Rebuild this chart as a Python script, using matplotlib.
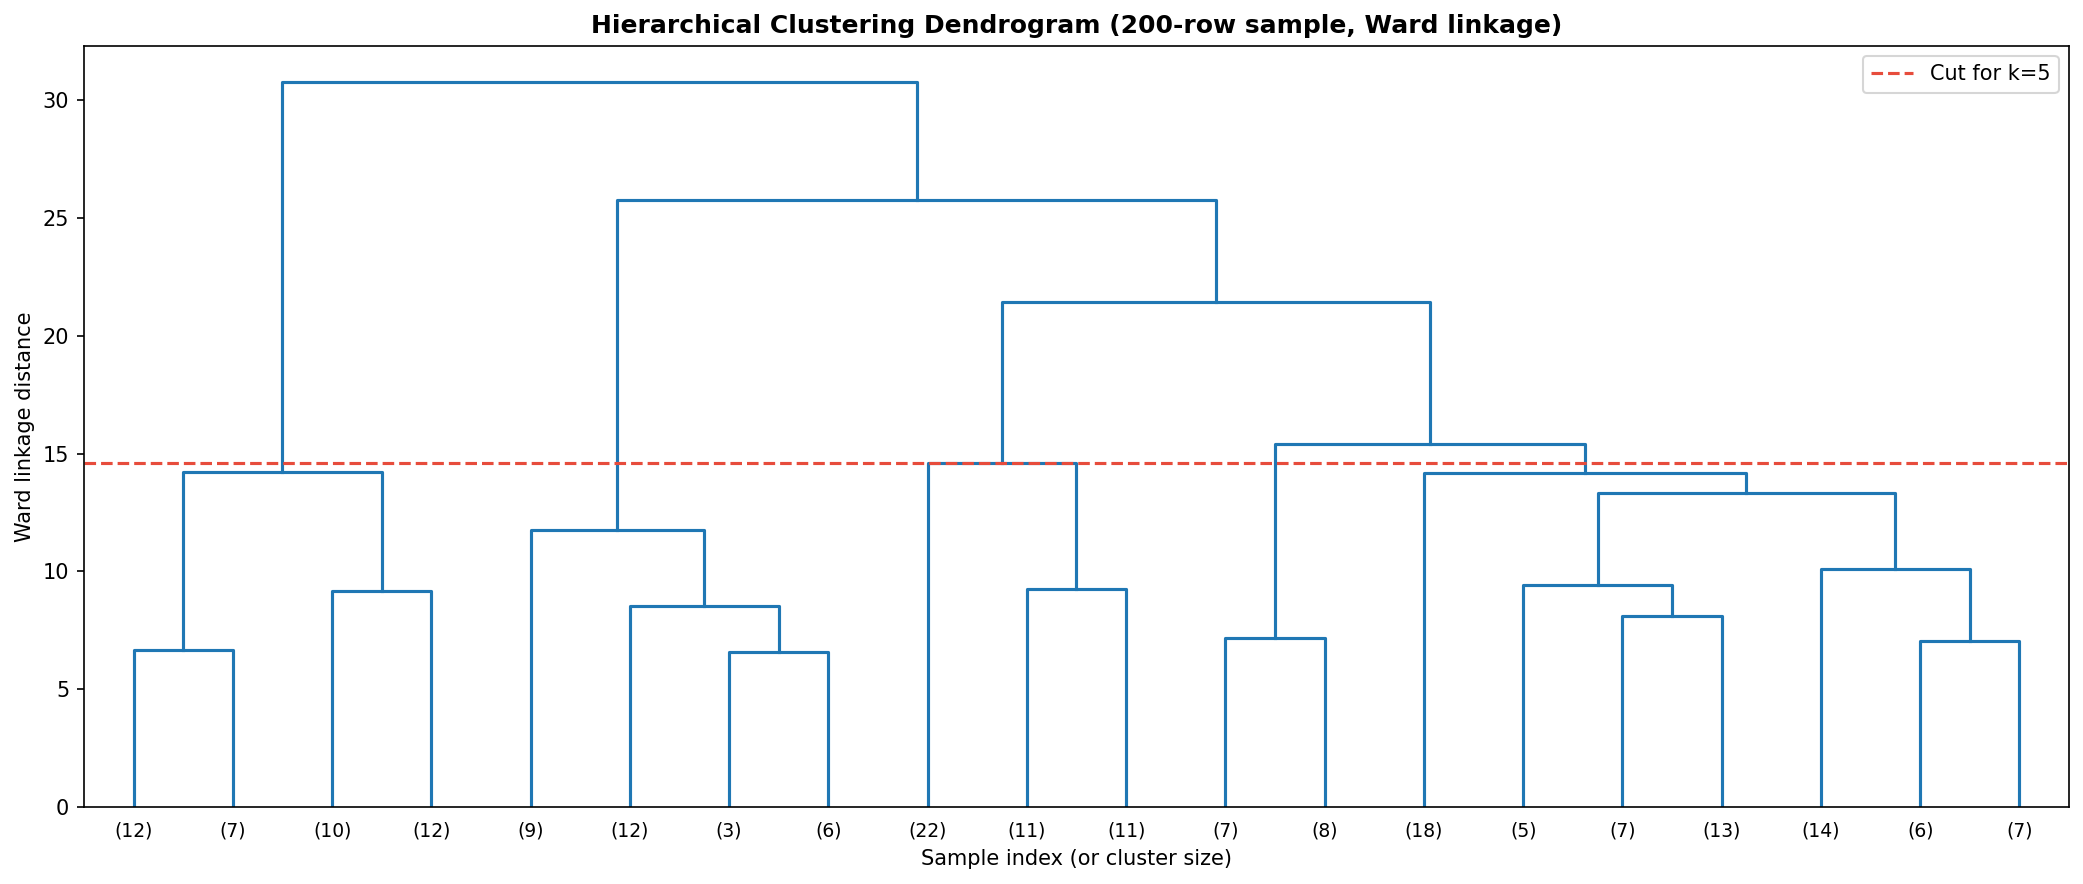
import numpy as np
import matplotlib
matplotlib.use("Agg")
import matplotlib.pyplot as plt

# truncated leaves (cluster sizes), left to right
leaf_sizes = [12, 7, 10, 12, 9, 12, 3, 6, 22, 11, 11, 7, 8, 18, 5, 7, 13, 14, 6, 7]

# merges: (left node, right node, height); leaves are 0..19, new nodes 20, 21, ...
merges = [
    (0, 1, 6.68),     # 20
    (2, 3, 9.15),     # 21
    (20, 21, 14.22),  # 22
    (6, 7, 6.60),     # 23
    (5, 23, 8.52),    # 24
    (4, 24, 11.74),   # 25
    (9, 10, 9.26),    # 26
    (8, 26, 14.60),   # 27
    (11, 12, 7.16),   # 28
    (15, 16, 8.12),   # 29
    (14, 29, 9.42),   # 30
    (18, 19, 7.06),   # 31
    (17, 31, 10.12),  # 32
    (30, 32, 13.32),  # 33
    (13, 33, 14.17),  # 34
    (28, 34, 15.41),  # 35
    (27, 35, 21.44),  # 36
    (25, 36, 25.76),  # 37
    (22, 37, 30.78),  # 38
]
cut_height = 14.6

n = len(leaf_sizes)
xpos = {i: 5 + 10 * i for i in range(n)}
ypos = {i: 0.0 for i in range(n)}

fig = plt.figure(figsize=(2083 / 150, 884 / 150), dpi=150)
ax = fig.add_axes([0.0403, 0.0871, 0.9530, 0.8612])

for k, (a, b, h) in enumerate(merges):
    node = n + k
    xa, xb = xpos[a], xpos[b]
    ax.plot([xa, xa, xb, xb], [ypos[a], h, h, ypos[b]], color="#1f77b4", lw=1.5)
    xpos[node] = (xa + xb) / 2
    ypos[node] = h

ax.axhline(cut_height, color="#e74c3c", linestyle="--", lw=1.5, label="Cut for k=5")

ax.set_xlim(0, 10 * n)
ax.set_ylim(0, max(h for _, _, h in merges) * 1.05)
ax.set_xticks([xpos[i] for i in range(n)])
ax.set_xticklabels([f"({s})" for s in leaf_sizes], fontsize=9)
for line in ax.get_xticklines():
    line.set_visible(False)

ax.set_title("Hierarchical Clustering Dendrogram (200-row sample, Ward linkage)",
             fontsize=12, fontweight="bold")
ax.set_xlabel("Sample index (or cluster size)")
ax.set_ylabel("Ward linkage distance")
ax.legend(loc="upper right")

fig.savefig("out.png", dpi=150)
